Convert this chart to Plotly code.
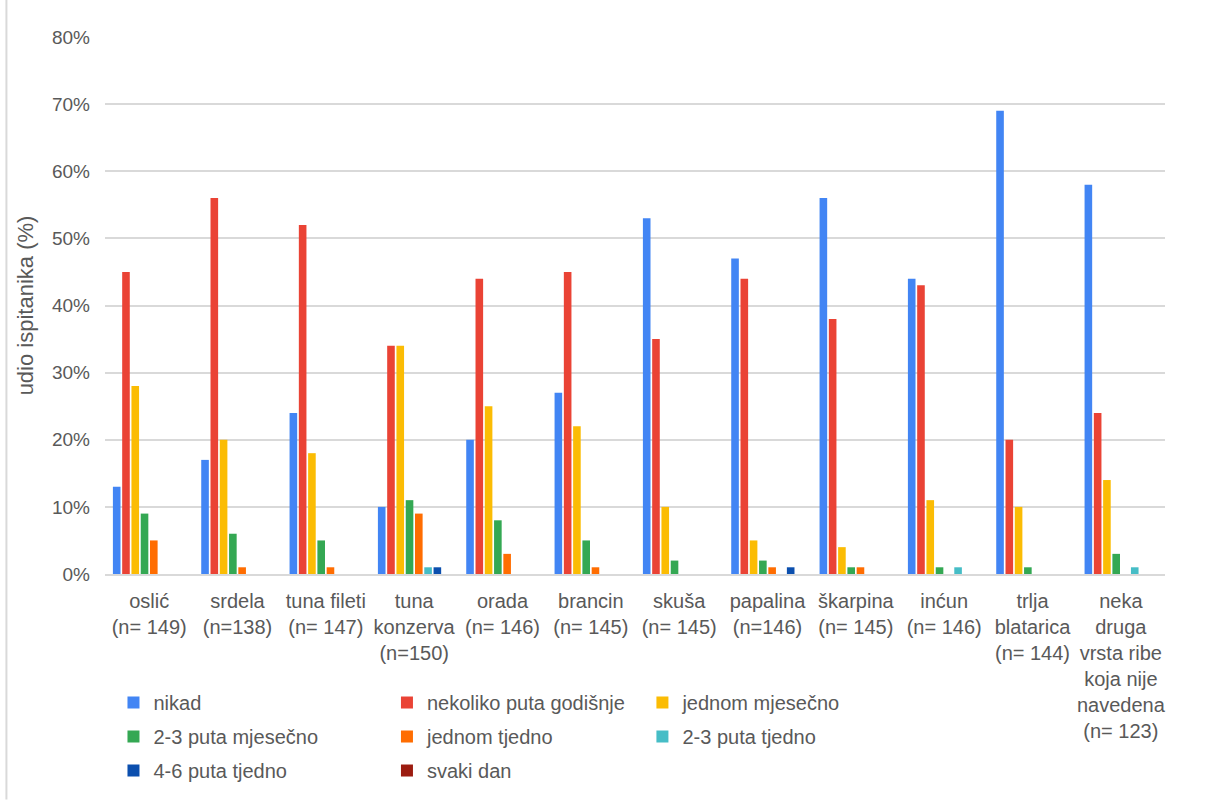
import plotly.graph_objects as go

# Fish species (x categories) and their tick labels
species = ["oslić", "srdela", "tuna fileti", "tuna konzerva", "orada", "brancin",
           "skuša", "papalina", "škarpina", "inćun", "trlja blatarica", "neka druga"]
tick_labels = ["oslić<br>(n= 149)", "srdela<br>(n=138)", "tuna fileti<br>(n= 147)",
               "tuna<br>konzerva<br>(n=150)", "orada<br>(n= 146)", "brancin<br>(n= 145)",
               "skuša<br>(n= 145)", "papalina<br>(n=146)", "škarpina<br>(n= 145)",
               "inćun<br>(n= 146)", "trlja<br>blatarica<br>(n= 144)",
               "neka<br>druga<br>vrsta ribe<br>koja nije<br>navedena<br>(n= 123)"]

# Share of respondents (%) per consumption frequency
nikad = [13, 17, 24, 10, 20, 27, 53, 47, 56, 44, 69, 58]
nekoliko_godisnje = [45, 56, 52, 34, 44, 45, 35, 44, 38, 43, 20, 24]
jednom_mjesecno = [28, 20, 18, 34, 25, 22, 10, 5, 4, 11, 10, 14]
dva_tri_mjesecno = [9, 6, 5, 11, 8, 5, 2, 2, 1, 1, 1, 3]
jednom_tjedno = [5, 1, 1, 9, 3, 1, 0, 1, 1, 0, 0, 0]
dva_tri_tjedno = [0, 0, 0, 1, 0, 0, 0, 0, 0, 1, 0, 1]
cetiri_sest_tjedno = [0, 0, 0, 1, 0, 0, 0, 1, 0, 0, 0, 0]
svaki_dan = [0, 0, 0, 0, 0, 0, 0, 0, 0, 0, 0, 0]

series = [
    ("nikad", nikad, "#4285F4", "legend"),
    ("nekoliko puta godišnje", nekoliko_godisnje, "#EA4335", "legend2"),
    ("jednom mjesečno", jednom_mjesecno, "#FBBC04", "legend3"),
    ("2-3 puta mjesečno", dva_tri_mjesecno, "#34A853", "legend"),
    ("jednom tjedno", jednom_tjedno, "#FF6D01", "legend2"),
    ("2-3 puta tjedno", dva_tri_tjedno, "#46BDC6", "legend3"),
    ("4-6 puta tjedno", cetiri_sest_tjedno, "#0B4FAE", "legend"),
    ("svaki dan", svaki_dan, "#9C1C10", "legend2"),
]

FONT = "Liberation Sans"
GREY = "#595959"

fig = go.Figure()
for name, vals, color, leg in series:
    fig.add_trace(go.Bar(
        x=species, y=vals, name=name, legend=leg, legendgroup=name,
        marker=dict(color=color, line=dict(width=0)),
    ))

legend_common = dict(
    orientation="v", traceorder="grouped", tracegroupgap=5,
    font=dict(family=FONT, size=20, color=GREY),
    bgcolor="rgba(0,0,0,0)", xanchor="left", yanchor="top",
    itemclick=False, itemdoubleclick=False,
)

LEG_Y = -0.203

fig.update_layout(
    width=1207, height=802,
    margin=dict(l=105, r=42, t=37, b=226),
    paper_bgcolor="white", plot_bgcolor="white",
    barmode="group", bargap=0.16, bargroupgap=0.18,
    font=dict(family=FONT, size=20, color=GREY),
    legend=dict(**legend_common, x=0.008, y=LEG_Y),
    legend2=dict(**legend_common, x=0.266, y=LEG_Y),
    legend3=dict(**legend_common, x=0.507, y=LEG_Y),
    xaxis=dict(
        tickmode="array", tickvals=species, ticktext=tick_labels,
        tickfont=dict(family=FONT, size=20, color=GREY),
        showline=True, linecolor="#d9d9d9", linewidth=2,
        showgrid=False, ticks="", tickangle=0, automargin=False,
        ticklabelstandoff=8,
    ),
    yaxis=dict(
        range=[0, 80], dtick=10, ticksuffix="%",
        tickfont=dict(family=FONT, size=19, color=GREY),
        gridcolor="#d9d9d9", gridwidth=1.5, zeroline=False,
        ticks="", ticklabelstandoff=14, automargin=False,
        title=dict(text="udio ispitanika (%)", standoff=12,
                   font=dict(family=FONT, size=22, color=GREY)),
    ),
    shapes=[dict(type="line", xref="paper", yref="paper",
                 x0=-0.093, x1=-0.093, y0=-0.42, y1=1.07,
                 line=dict(color="#d9d9d9", width=2))],
)

fig.write_html("out.html")
